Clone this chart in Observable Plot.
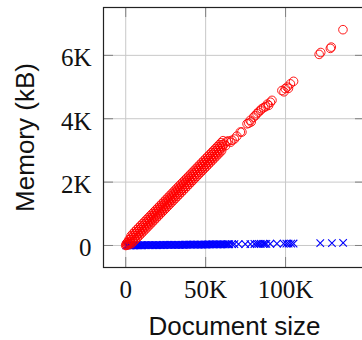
<!DOCTYPE html>
<html>
<head>
<meta charset="utf-8">
<script src="https://cdn.jsdelivr.net/npm/d3@7"></script>
<script src="https://cdn.jsdelivr.net/npm/@observablehq/plot@0.6"></script>
<style>
  html, body { margin: 0; padding: 0; background: #fff; overflow: hidden; }
  #chart svg { display: block; max-width: none !important; }
</style>
</head>
<body>
<div id="chart"></div>
<script>
// Red series: document size (bytes) and memory (kB)
const docSize = [
  0,300,600,900, 1200,1500,1800,2100, 2400,2700,3000,3300, 3600,3900,4200,4500,
  4800,5100,5400,5700, 6000,6300,6600,6900, 7200,7500,7800,8100, 8400,8700,9000,9300,
  9600,9900,10200,10500, 10800,11100,11400,11700, 12000,12300,12600,12900, 13200,13500,13800,14100,
  14400,14700,15000,15300, 15600,15900,16200,16500, 16800,17100,17400,17700, 18000,18300,18600,18900,
  19200,19500,19800,20100, 20400,20700,21000,21300, 21600,21900,22200,22500, 22800,23100,23400,23700,
  24000,24300,24600,24900, 25200,25500,25800,26100, 26400,26700,27000,27300, 27600,27900,28200,28500,
  28800,29100,29400,29700, 30000,30300,30600,30900, 31200,31500,31800,32100, 32400,32700,33000,33300,
  33600,33900,34200,34500, 34800,35100,35400,35700, 36000,36300,36600,36900, 37200,37500,37800,38100,
  38400,38700,39000,39300, 39600,39900,40200,40500, 40800,41100,41400,41700, 42000,42300,42600,42900,
  43200,43500,43800,44100, 44400,44700,45000,45300, 45600,45900,46200,46500, 46800,47100,47400,47700,
  48000,48300,48600,48900, 49200,49500,49800,50100, 50400,50700,51000,51300, 51600,51900,52200,52500,
  52800,53100,53400,53700, 54000,54300,54600,54900, 55200,55500,55800,56100, 56400,56700,57000,57300,
  57600,57900,58200,58500, 58800,59100,59400,59700, 60000,60300,60600,60900,
  61500,62500,63200,64300,65600,66500,68000,69500,71700,72700,
  75900,77000,77900,78500,80000,81000,82100,83000,84200,85000,
  86300,87500,88600,89400,90500,91500,97700,99000,99800,101000,
  101800,103000,105000,121000,122000,128000,128600,135900
];
const memoryRed = [
  0,40,5,90, 20,110,60,190, 40,190,110,300, 60,250,180,370,
  120,315,240,436, 182,378,303,499, 244,440,366,561, 307,502,428,624,
  369,565,490,686, 432,627,553,748, 494,690,615,811, 556,752,678,873,
  619,814,740,936, 681,877,802,998, 744,939,865,1060, 806,1002,927,1123,
  868,1064,990,1185, 931,1126,1052,1248, 993,1189,1114,1310, 1056,1251,1177,1372,
  1118,1314,1239,1435, 1180,1376,1302,1497, 1243,1438,1364,1560, 1305,1501,1426,1622,
  1368,1563,1489,1684, 1430,1626,1551,1747, 1492,1688,1614,1809, 1555,1750,1676,1872,
  1617,1813,1738,1934, 1680,1875,1801,1996, 1742,1938,1863,2059, 1804,2000,1926,2121,
  1867,2062,1988,2184, 1929,2125,2050,2246, 1992,2187,2113,2308, 2054,2250,2175,2371,
  2116,2312,2238,2433, 2179,2374,2300,2496, 2241,2437,2362,2558, 2304,2499,2425,2620,
  2366,2562,2487,2683, 2428,2624,2550,2745, 2491,2686,2612,2808, 2553,2749,2674,2870,
  2616,2811,2737,2932, 2678,2874,2799,2995, 2740,2936,2862,3057, 2803,2998,2924,3120,
  2865,3061,2986,3182, 2928,3123,3049,3244, 2990,3186,3111,3307,
  3200,3150,3280,3300,3260,3320,3360,3450,3580,3580,
  3840,3860,3950,3900,4050,4100,4160,4210,4260,4310,
  4350,4380,4460,4420,4520,4580,4890,4850,4950,5000,
  4960,5100,5180,6030,6090,6220,6260,6810
];
// Blue series: document size (bytes) and memory (kB)
const blueSize = [
  300,1100,1900,2800,3600,4500,5300,6200,7000,7900,
  8700,9600,10400,11300,12100,13000,13800,14700,15500,16400,
  17200,18100,18900,19800,20600,21500,22300,23200,24000,24900,
  25700,26600,27400,28300,29100,30000,30800,31700,32500,33400,
  34200,35100,35900,36800,37600,38500,39300,40200,41000,41900,
  42700,43600,44400,45300,46100,47000,47800,48700,49500,50400,
  51200,52100,52900,53800,54600,55500,56300,57200,58000,58900,
  59700,60600,61400,62300,63100,64000,64800,66500,68000,70600,
  74800,78000,80500,82000,83200,84500,86000,87000,88000,90400,
  94600,98800,100500,101900,103500,105000,121700,129000,136000
];
const blueMemory = [
  1,2,2,3,3,4,4,5,5,6,
  6,7,7,8,8,9,9,10,10,11,
  11,12,12,13,13,14,14,15,15,16,
  16,17,17,18,18,19,19,20,20,21,
  21,22,22,23,23,24,24,25,25,26,
  26,27,27,28,28,29,29,30,30,31,
  31,32,32,33,33,34,34,35,35,36,
  36,37,37,38,38,39,39,40,41,42,
  44,46,47,48,49,50,51,52,53,54,
  56,58,59,60,61,62,71,75,79
];

const xTicks = [0, 50000, 100000];
const xTickLabels = ["0", "50K", "100K"];
const yTicks = [0, 2000, 4000, 6000];
const yTickLabels = ["0", "2K", "4K", "6K"];
const xLabel = "Document size";
const yLabel = "Memory (kB)";

const red = docSize.map((d, i) => ({size: d, mem: memoryRed[i]}));
const blue = blueSize.map((d, i) => ({size: d, mem: blueMemory[i]}));

const serif = "'Liberation Serif', serif";
const sans = "'Liberation Sans', sans-serif";

const chart = Plot.plot({
  width: 380,
  height: 340,
  marginLeft: 103,
  marginRight: 15,
  marginTop: 7,
  marginBottom: 73,
  style: {fontFamily: serif, background: "#fff", maxWidth: "none"},
  x: {domain: [-13900, 150000], axis: null},
  y: {domain: [-695, 7510], axis: null},
  marks: [
    Plot.gridX(xTicks, {stroke: "#c8c8c8", strokeOpacity: 1, strokeWidth: 1}),
    Plot.gridY(yTicks, {stroke: "#c8c8c8", strokeOpacity: 1, strokeWidth: 1}),
    Plot.ruleX(xTicks, {stroke: "#808080", insetTop: 250}),
    Plot.ruleX(xTicks, {stroke: "#808080", insetBottom: 250}),
    Plot.ruleY(yTicks, {stroke: "#808080", insetRight: 252}),
    Plot.ruleY(yTicks, {stroke: "#808080", insetLeft: 252}),
    Plot.dot(blue, {x: "size", y: "mem", symbol: "times", r: 3.5, stroke: "#0000ff", strokeWidth: 1.1}),
    Plot.dot(red, {x: "size", y: "mem", symbol: "circle", r: 4.3, stroke: "#ff0000", strokeWidth: 0.9, fill: "none"}),
    Plot.frame({stroke: "#222", strokeWidth: 1.2}),
    Plot.text(xTicks, {x: d => d, text: xTickLabels, frameAnchor: "bottom", lineAnchor: "bottom", dy: 30, fontSize: 25, fontFamily: serif, fill: "#111"}),
    Plot.text(yTicks, {y: d => d, text: yTickLabels, frameAnchor: "left", textAnchor: "end", lineAnchor: "middle", dx: -12, dy: 3, fontSize: 25, fontFamily: serif, fill: "#111"}),
    Plot.text([xLabel], {text: d => d, frameAnchor: "bottom", textAnchor: "middle", lineAnchor: "bottom", dy: 67, fontSize: 26, fontFamily: sans, fill: "#111"}),
    Plot.text([yLabel], {text: d => d, frameAnchor: "left", textAnchor: "middle", rotate: -90, lineAnchor: "bottom", dx: -70, fontSize: 26, fontFamily: sans, fill: "#111"})
  ]
});
document.getElementById("chart").appendChild(chart);
</script>
</body>
</html>
